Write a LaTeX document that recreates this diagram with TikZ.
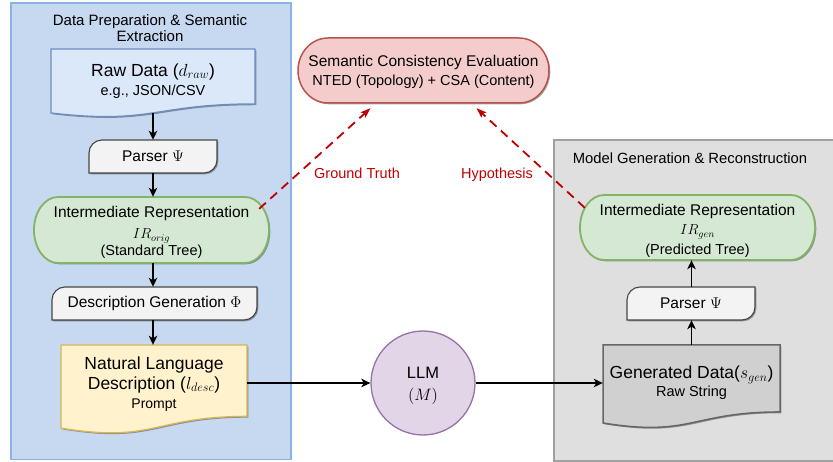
\documentclass[tikz,border=0pt]{standalone}
\usepackage{fix-cm}
\usepackage{fontspec}
\setmainfont{Liberation Sans}
\usetikzlibrary{arrows.meta,shadows,calc}
\definecolor{lpfill}{RGB}{198,217,240}
\definecolor{lpdraw}{RGB}{141,179,226}
\definecolor{rpfill}{RGB}{223,223,223}
\definecolor{rpdraw}{RGB}{160,160,160}
\definecolor{rawfill}{RGB}{218,232,250}
\definecolor{rawdraw}{RGB}{108,142,191}
\definecolor{psfill}{RGB}{243,243,243}
\definecolor{psdraw}{RGB}{70,70,70}
\definecolor{irfill}{RGB}{213,232,212}
\definecolor{irdraw}{RGB}{130,179,102}
\definecolor{nlfill}{RGB}{255,242,204}
\definecolor{nldraw}{RGB}{214,182,86}
\definecolor{evfill}{RGB}{244,204,204}
\definecolor{evdraw}{RGB}{184,84,80}
\definecolor{llmfill}{RGB}{225,213,231}
\definecolor{llmdraw}{RGB}{150,115,166}
\definecolor{genfill}{RGB}{208,208,208}
\definecolor{gendraw}{RGB}{102,102,102}
\definecolor{dred}{RGB}{192,0,0}
\newcommand{\fsBig}{\fontsize{17.5}{20}\selectfont}
\newcommand{\fsMid}{\fontsize{15.5}{18}\selectfont}
\newcommand{\fsSm}{\fontsize{14.5}{17}\selectfont}
% document shape: name, style, x0, y0, x1, y1, node font, text
\newcommand{\docshape}[8]{%
 \path[#2] (#3,#4) -- (#5,#4) -- (#5,{#4+0.802*(#6-#4)}) .. controls ({(#3+#5)/2},{#4+0.802*(#6-#4)}) and ({(#3+#5)/2},{#4+1.107*(#6-#4)}) .. (#3,{#4+0.934*(#6-#4)}) -- cycle;
 \node[inner sep=0pt, align=center, font=#7, minimum width={#5-#3}, minimum height={0.933*(#6-#4)}] (#1) at ({(#3+#5)/2},{#4+0.4665*(#6-#4)}) {#8};
}
% round diagonal corner box: name, x0, y0, x1, y1, text
\newcommand{\diagbox}[6]{%
 \path[psbox] (#2,#5) -- (#2,{#3+13}) arc[start angle=180,end angle=270,radius=13] -- (#4,#3) -- (#4,{#5-13}) arc[start angle=0,end angle=90,radius=13] -- cycle;
 \node[inner sep=0pt, align=center, font=\fsMid, minimum width={#4-#2}, minimum height={#5-#3}] (#1) at ({(#2+#4)/2},{(#3+#5)/2}) {#6};
}
% stadium: name, style, x0, y0, x1, y1, rx, node font, text
\newcommand{\stadium}[9]{%
 \path[#2] ({#3+#7},#4) -- ({#5-#7},#4) arc[start angle=270,end angle=450,x radius=#7,y radius={(#6-#4)/2}] -- ({#3+#7},#6) arc[start angle=90,end angle=270,x radius=#7,y radius={(#6-#4)/2}] -- cycle;
 \node[inner sep=0pt, align=center, font=#8, minimum width={#5-#3}, minimum height={#6-#4}] (#1) at ({(#3+#5)/2},{(#4+#6)/2}) {#9};
}
\begin{document}
\begin{tikzpicture}[x=1pt,y=-1pt,
  shad/.style={drop shadow={shadow xshift=1.3pt,shadow yshift=-1.3pt,opacity=.35,fill=black}},
  rawbox/.style={shad,fill=rawfill,draw=rawdraw,line width=1.3pt},
  psbox/.style={shad,fill=psfill,draw=psdraw,line width=1.1pt},
  irbox/.style={shad,fill=irfill,draw=irdraw,line width=1.8pt},
  nlbox/.style={shad,fill=nlfill,draw=nldraw,line width=1.3pt},
  evbox/.style={shad,fill=evfill,draw=evdraw,line width=1.5pt},
  genbox/.style={shad,fill=genfill,draw=gendraw,line width=1.5pt},
  arr/.style={line width=1.8pt,-{Stealth[length=9pt,width=8.5pt,inset=2.5pt]}},
  darr/.style={dred,line width=1.8pt,dash pattern=on 9pt off 6pt,-{Stealth[length=10pt,width=7pt,inset=2pt]}},
  lbl/.style={inner sep=0pt,align=center}]
\useasboundingbox (0,0) rectangle (833,462);
% panels
\node[fill=lpfill,draw=lpdraw,line width=1.8pt,minimum width=280,minimum height=456,anchor=north west] (lp) at (10,2.5) {};
\node[fill=rpfill,draw=rpdraw,line width=1.8pt,minimum width=300,minimum height=321,anchor=north west] (rp) at (553,139) {};
\node[lbl,font=\fontsize{15}{16}\selectfont] (lt) at (150,28) {Data Preparation \& Semantic\\Extraction};
\node[lbl,font=\fontsize{14.8}{17}\selectfont] (rt) at (690,158) {Model Generation \& Reconstruction};
% left column
\docshape{raw}{rawbox}{51}{49}{255}{117.5}{\fontsize{17.5}{19}\selectfont}{Raw Data ($d_{raw}$)\\{\fsSm e.g., JSON/CSV\rule[-3pt]{0pt}{0pt}}}
\diagbox{ps1}{89}{140}{217}{173}{Parser $\Psi$}
\stadium{iro}{irbox}{34}{197}{269}{263}{24}{\fontsize{15.5}{18}\selectfont}{\rule{0pt}{17pt}Intermediate Representation\\[3pt]{\fsSm $IR_{orig}$}\\[-1pt]{\fsSm (Standard Tree)}}
\diagbox{dg}{52}{287}{257}{320}{Description Generation $\Phi$}
\docshape{nl}{nlbox}{61}{345}{247}{434}{\fontsize{17.5}{20}\selectfont}{Natural Language\\Description ($l_{desc}$)\\[-1pt]{\fontsize{14}{16}\selectfont Prompt\rule[-8pt]{0pt}{0pt}}}
% middle
\stadium{ev}{evbox}{298}{38}{549}{103}{30}{\fontsize{15.5}{19}\selectfont}{\rule{0pt}{14pt}Semantic Consistency Evaluation\\{\fsSm NTED (Topology) + CSA (Content)}}
\node[circle,fill=llmfill,draw=llmdraw,line width=1.3pt,minimum size=104,inner sep=0pt,align=center,font=\fontsize{16.5}{22}\selectfont] (llm) at (423,383) {\rule{0pt}{18pt}LLM\\$(M)$};
% right column
\stadium{iro2}{irbox}{580}{195}{815}{260}{24}{\fontsize{15.5}{19.5}\selectfont}{\rule{0pt}{18pt}Intermediate Representation\\{\fsSm $IR_{gen}$}\\{\fsSm (Predicted Tree)}}
\diagbox{ps2}{627}{287}{755}{320}{Parser $\Psi$}
\docshape{gen}{genbox}{603}{345}{780}{428.5}{\fontsize{17.5}{18}\selectfont}{Generated Data($s_{gen}$)\\{\fsSm Raw String\rule[-5pt]{0pt}{0pt}}}
% connectors
\draw[arr] (raw.south) -- (ps1.north -| raw.south);
\draw[arr] (ps1.south -| raw.south) -- (iro.north -| raw.south);
\draw[arr] (iro.south -| raw.south) -- (dg.north -| raw.south);
\draw[arr] (dg.south -| raw.south) -- (nl.north -| raw.south);
\draw[arr] (nl.east |- llm) -- (llm.west);
\draw[arr] (llm.east) -- (gen.west |- llm);
\draw[arr] (gen.north) -- (ps2.south -| gen.north);
\draw[arr] (ps2.north -| gen.north) -- (iro2.south -| gen.north);
\coordinate (gtA) at ([xshift=-10pt,yshift=-12pt]iro.north east);
\coordinate (gtB) at ([xshift=-53pt,yshift=-5pt]ev.south);
\coordinate (hyA) at ([xshift=5pt,yshift=-13pt]iro2.north west);
\coordinate (hyB) at ([xshift=53pt,yshift=-5pt]ev.south);
\draw[darr] (gtA) -- (gtB);
\draw[darr] (hyA) -- (hyB);
\node[lbl,text=dred,font=\fsSm] (gt) at (357,173) {Ground Truth};
\node[lbl,text=dred,font=\fsSm] (hy) at (497,175) {Hypothesis};
\end{tikzpicture}
\end{document}
